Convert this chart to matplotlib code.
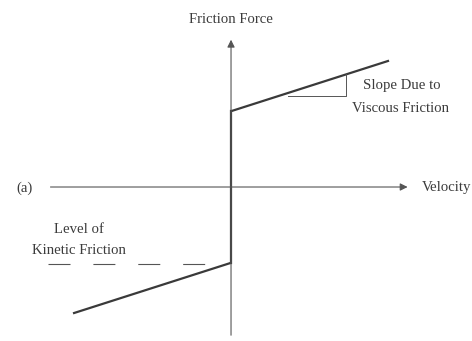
import matplotlib.pyplot as plt

# friction curve (velocity, force)
vel_pos = [0.0, 1.0]
force_pos = [0.48, 0.80]
vel_neg = [-1.0, 0.0]
force_neg = [-0.80, -0.48]
jump_vel = [0.0, 0.0]
jump_force = [-0.48, 0.48]

# kinetic level dashes
kin_x = [-1.16, -0.15]
kin_y = [-0.49, -0.49]

# slope triangle
tri_x = [0.36, 0.73, 0.73]
tri_y = [0.576, 0.576, 0.713]

fig = plt.figure(figsize=(4.72, 3.41), dpi=100)
ax = fig.add_axes([0, 0, 1, 1])
ax.set_xlim(-1.462, 1.525)
ax.set_ylim(-0.975, 1.184)
ax.axis('off')

plt.rcParams['font.family'] = ['Liberation Serif', 'DejaVu Serif']
tc = '#3c3c3c'
fs = 10.6

# axes with arrows
ax.annotate('', xy=(1.135, 0), xytext=(-1.16, 0),
            arrowprops=dict(arrowstyle='-|>', color='#555555', lw=0.8, mutation_scale=11))
ax.annotate('', xy=(0, 0.95), xytext=(0, -0.956),
            arrowprops=dict(arrowstyle='-|>', color='#555555', lw=0.8, mutation_scale=11))

ax.plot(vel_pos, force_pos, color='#3a3a3a', lw=1.6, solid_capstyle='butt')
ax.plot(vel_neg, force_neg, color='#3a3a3a', lw=1.6, solid_capstyle='butt')
ax.plot(jump_vel, jump_force, color='#3a3a3a', lw=1.6)
ax.plot(kin_x, kin_y, color='#555555', lw=0.8, dashes=(19.8, 20.6))
ax.plot(tri_x, tri_y, color='#555555', lw=0.7)

ax.text(0, 1.058, 'Friction Force', ha='center', va='center', fontsize=fs, color=tc)
ax.text(1.21, 0.0, 'Velocity', ha='left', va='center', fontsize=fs, color=tc)
ax.text(-1.31, -0.01, '(a)', ha='center', va='center', fontsize=fs, color=tc)
ax.text(1.08, 0.64, 'Slope Due to', ha='center', va='center', fontsize=fs, color=tc)
ax.text(1.07, 0.50, 'Viscous Friction', ha='center', va='center', fontsize=fs, color=tc)
ax.text(-0.96, -0.266, 'Level of', ha='center', va='center', fontsize=fs, color=tc)
ax.text(-0.96, -0.405, 'Kinetic Friction', ha='center', va='center', fontsize=fs, color=tc)

fig.savefig('out.png', dpi=100)
